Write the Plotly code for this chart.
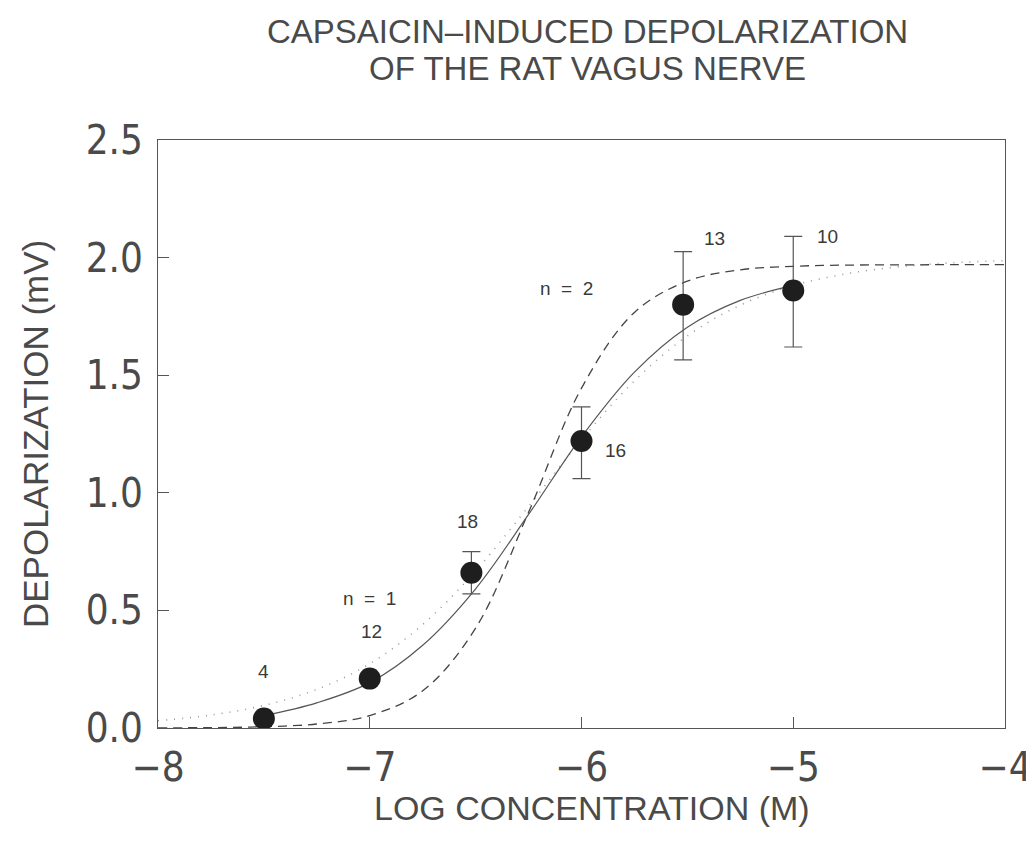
import plotly.graph_objects as go

# Observed data (mean depolarization, mV) with SEM and n
log_conc = [-7.5, -7.0, -6.52, -6.0, -5.52, -5.0]
depol = [0.04, 0.21, 0.66, 1.22, 1.80, 1.86]
err_plus = [0.0, 0.0, 0.09, 0.145, 0.225, 0.23]
err_minus = [0.0, 0.0, 0.09, 0.16, 0.235, 0.24]
n_labels = ["4", "12", "18", "16", "13", "10"]
label_x = [-7.50, -6.99, -6.54, -5.84, -5.37, -4.84]
label_y = [0.24, 0.41, 0.88, 1.18, 2.08, 2.09]

# Curves
curve_x = [-8.0, -7.75, -7.5, -7.25, -7.0, -6.75, -6.5, -6.25, -6.0,
           -5.75, -5.5, -5.25, -5.0, -4.75, -4.5, -4.25, -4.0]
dashed_y = [0.0005, 0.0017, 0.0054, 0.017, 0.053, 0.158, 0.425, 0.917, 1.445,
            1.767, 1.900, 1.948, 1.963, 1.968, 1.969, 1.970, 1.970]
dotted_y = [0.031, 0.055, 0.096, 0.164, 0.273, 0.440, 0.668, 0.942, 1.226,
            1.476, 1.667, 1.798, 1.881, 1.931, 1.961, 1.978, 1.987]
solid_x = [-7.5, -7.25, -7.0, -6.75, -6.5, -6.25, -6.0, -5.75, -5.5, -5.25, -5.0]
solid_y = [0.052, 0.107, 0.193, 0.352, 0.592, 0.908, 1.238, 1.513, 1.704, 1.818, 1.882]

x_ticks = [-8, -7, -6, -5, -4]
x_tick_text = ["\u22128", "\u22127", "\u22126", "\u22125", "\u22124"]
y_ticks = [0.0, 0.5, 1.0, 1.5, 2.0, 2.5]
y_tick_text = ["0.0", "0.5", "1.0", "1.5", "2.0", "2.5"]

INK = "#3a3a3a"
TXT = "#4a4a4a"
FONT = "Liberation Sans Narrow, DejaVu Sans Condensed, Arial Narrow, sans-serif"
FONT2 = "Liberation Sans, Arial, sans-serif"

fig = go.Figure()
fig.add_trace(go.Scatter(x=curve_x, y=dotted_y, mode="lines", line_shape="spline",
                         line=dict(color="#9a9a9a", width=1.6, dash="1px,7px"),
                         hoverinfo="skip", showlegend=False))
fig.add_trace(go.Scatter(x=curve_x, y=dashed_y, mode="lines", line_shape="spline",
                         line=dict(color="#444444", width=1.3, dash="9px,6px"),
                         hoverinfo="skip", showlegend=False))
fig.add_trace(go.Scatter(x=solid_x, y=solid_y, mode="lines", line_shape="spline",
                         line=dict(color="#555555", width=1.2),
                         hoverinfo="skip", showlegend=False))
fig.add_trace(go.Scatter(x=log_conc, y=depol, mode="markers",
                         marker=dict(color="#1e1e1e", size=22),
                         error_y=dict(type="data", symmetric=False, array=err_plus,
                                      arrayminus=err_minus, color="#555555",
                                      thickness=1.2, width=9),
                         showlegend=False))

for t, xx, yy in zip(n_labels, label_x, label_y):
    fig.add_annotation(x=xx, y=yy, text=t, showarrow=False,
                       font=dict(family=FONT2, size=19, color=INK))
fig.add_annotation(x=-7.0, y=0.55, text="n  =  1", showarrow=False,
                   font=dict(family=FONT2, size=19, color=INK))
fig.add_annotation(x=-6.07, y=1.87, text="n  =  2", showarrow=False,
                   font=dict(family=FONT2, size=19, color=INK))

# Title (two lines)
fig.add_annotation(xref="paper", yref="paper", x=0.5, y=1.0, xshift=6, yshift=109,
                   text="CAPSAICIN\u2013INDUCED DEPOLARIZATION", showarrow=False,
                   yanchor="middle", font=dict(family=FONT2, size=33, color=TXT))
fig.add_annotation(xref="paper", yref="paper", x=0.5, y=1.0, xshift=6, yshift=72,
                   text="OF THE RAT VAGUS NERVE", showarrow=False,
                   yanchor="middle", font=dict(family=FONT2, size=33, color=TXT))
# Axis titles
fig.add_annotation(xref="paper", yref="paper", x=0.5, y=0.0, xshift=10, yshift=-80,
                   text="LOG CONCENTRATION (M)", showarrow=False,
                   yanchor="middle", font=dict(family=FONT2, size=34, color=TXT))
fig.add_annotation(xref="paper", yref="paper", x=0.0, y=0.5, xshift=-123,
                   text="DEPOLARIZATION (mV)", showarrow=False, textangle=-90,
                   xanchor="center", yanchor="middle",
                   font=dict(family=FONT2, size=35, color=TXT))

axis_common = dict(showline=True, linecolor="#555555", linewidth=1.2, mirror=True,
                   ticks="inside", ticklen=11, tickcolor="#555555", tickwidth=1.2,
                   showgrid=False, zeroline=False, automargin=False)

fig.update_layout(
    width=1026, height=851,
    margin=dict(l=158, r=21, t=140, b=123, autoexpand=False),
    paper_bgcolor="white", plot_bgcolor="white",
    xaxis=dict(range=[-8, -4], tickvals=x_ticks, ticktext=x_tick_text,
               tickfont=dict(family=FONT, size=40, color=TXT),
               ticklabelstandoff=4, ticklabeloverflow="allow",
               **axis_common),
    yaxis=dict(range=[0, 2.5], tickvals=y_ticks, ticktext=y_tick_text,
               tickfont=dict(family=FONT, size=40, color=TXT),
               ticklabelstandoff=6,
               **axis_common),
)

fig.write_html("out.html")
